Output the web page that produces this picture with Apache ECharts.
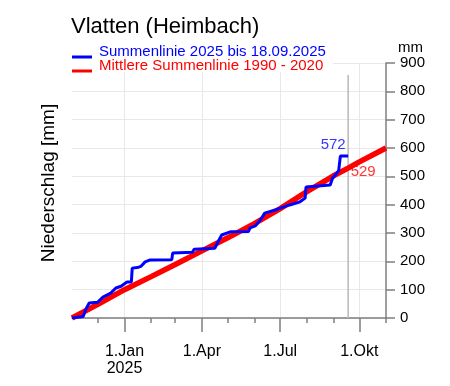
<!DOCTYPE html>
<html><head><meta charset="utf-8">
<script src="https://cdn.jsdelivr.net/npm/echarts@6/dist/echarts.min.js"></script>
<style>html,body{margin:0;padding:0;background:#fff}#c{width:450px;height:386px}</style>
</head><body><div id="c"></div>
<script>
// ---- data ----
const startDate = '2024-11-01';
const endDate = '2025-11-01';
const reportDate = '2025-09-18';
const reportLineTop = 858;
const monthTickDates = ['2024-12-01','2025-01-01','2025-02-01','2025-03-01','2025-04-01','2025-05-01','2025-06-01','2025-07-01','2025-08-01','2025-09-01','2025-10-01','2025-11-01'];
const majorTickDates = ['2025-01-01','2025-04-01','2025-07-01','2025-10-01'];
const majorTickLabels = ['1.Jan\n2025','1.Apr','1.Jul','1.Okt'];
const yTickValues = [0,100,200,300,400,500,600,700,800,900];

const meanDates = ['2024-11-01','2024-12-01','2025-01-01','2025-02-01','2025-03-01','2025-04-01','2025-05-01','2025-06-01','2025-07-01','2025-08-01','2025-09-01','2025-09-18','2025-10-01','2025-11-01'];
const meanValues = [0,48,100,146,189,237,283,333,386,446,502,529,551,600];

const currentDates = ['2024-11-01','2024-11-14','2024-11-17','2024-11-21','2024-12-01','2024-12-07','2024-12-16','2024-12-22','2024-12-28','2025-01-04','2025-01-09','2025-01-10','2025-01-16','2025-01-20','2025-01-25','2025-01-31','2025-02-25','2025-02-26','2025-03-21','2025-03-23','2025-04-16','2025-04-20','2025-04-24','2025-05-04','2025-05-25','2025-05-27','2025-06-02','2025-06-08','2025-06-13','2025-06-25','2025-07-01','2025-07-12','2025-07-24','2025-07-30','2025-07-31','2025-08-28','2025-08-31','2025-09-05','2025-09-07','2025-09-09','2025-09-18'];
const currentValues = [0,5,30,53,56,74,88,106,112,127,127,176,178,182,198,205,206,229,232,243,246,270,293,304,305,318,325,346,370,381,388,399,410,423,462,469,494,512,520,572,572];

const seriesNames = ['Summenlinie 2025 bis 18.09.2025','Mittlere Summenlinie 1990 - 2020'];
const titleText = 'Vlatten (Heimbach)';
const yName = 'Niederschlag [mm]';
const yUnit = 'mm';

// ---- build ----
function fmt(d){const y=d.getUTCFullYear(),m=String(d.getUTCMonth()+1).padStart(2,'0'),dd=String(d.getUTCDate()).padStart(2,'0');return y+'-'+m+'-'+dd;}
const categories = [];
for (let t = Date.parse(startDate+'T00:00:00Z'); t <= Date.parse(endDate+'T00:00:00Z'); t += 86400000) categories.push(fmt(new Date(t)));
const monthSet = new Set(monthTickDates);
const majorSet = new Set(majorTickDates);
const labelMap = {}; majorTickDates.forEach((d,i)=>labelMap[d]=majorTickLabels[i]);
const meanData = meanDates.map((d,i)=>[d, meanValues[i]]);
const currentData = currentDates.map((d,i)=>[d, currentValues[i]]);
const lastCurrent = currentValues[currentValues.length-1];
const meanAtReport = meanValues[meanDates.indexOf(reportDate)];

const FONT = 'Liberation Sans, Arial, Helvetica, sans-serif';
const axisGray = '#7f7f7f';
const gridGray = '#e8e8e8';

const chart = echarts.init(document.getElementById('c'), null, {renderer:'canvas'});
chart.setOption({
  animation:false,
  backgroundColor:'#fff',
  textStyle:{fontFamily:FONT},
  title:{text:titleText, left:66, top:11, textStyle:{fontSize:22, fontWeight:'normal', color:'#000', fontFamily:FONT}},
  grid:{left:72, right:64, top:63, bottom:68, containLabel:false, outerBoundsMode:'none'},
  xAxis:[
    {type:'category', data:categories, boundaryGap:false, position:'bottom',
     axisLine:{show:true, lineStyle:{color:axisGray, width:1.5}},
     axisTick:{show:true, length:5, interval:(i,v)=>monthSet.has(v), lineStyle:{color:axisGray, width:1.5}},
     axisLabel:{show:false}, splitLine:{show:false}},
    {type:'category', data:categories, boundaryGap:false, position:'bottom',
     axisLine:{show:false},
     axisTick:{show:true, length:14, interval:(i,v)=>majorSet.has(v), lineStyle:{color:axisGray, width:1.5}},
     axisLabel:{show:true, interval:(i,v)=>majorSet.has(v), formatter:(v)=>labelMap[v]||'', margin:25, fontSize:16, lineHeight:17, color:'#000', fontFamily:FONT},
     splitLine:{show:true, interval:(i,v)=>majorSet.has(v), lineStyle:{color:gridGray, width:1}}}
  ],
  yAxis:{type:'value', position:'right', min:yTickValues[0], max:yTickValues[yTickValues.length-1], interval:yTickValues[1]-yTickValues[0],
    name:yUnit, nameLocation:'end', nameGap:11,
    nameTextStyle:{align:'left', verticalAlign:'middle', padding:[0,0,0,12], fontSize:15, color:'#000', fontFamily:FONT},
    axisLine:{show:true, lineStyle:{color:axisGray, width:1.5}},
    axisTick:{show:true, length:9, lineStyle:{color:axisGray, width:1.5}},
    axisLabel:{margin:14, fontSize:15, color:'#000', fontFamily:FONT},
    splitLine:{show:true, lineStyle:{color:gridGray, width:1}}},
  graphic:[
    {type:'text', x:49, y:183, rotation:Math.PI/2, style:{text:yName, align:'center', verticalAlign:'middle', fontSize:19, fill:'#000', fontFamily:FONT}},
    {type:'rect', z:100, shape:{x:68, y:40, width:265, height:32}, style:{fill:'#ffffff'}},
    {type:'line', z:101, shape:{x1:72, y1:57, x2:92, y2:57}, style:{stroke:'#0000ff', lineWidth:3}},
    {type:'text', z:101, style:{text:seriesNames[0], x:99, y:51.5, verticalAlign:'middle', fontSize:15, fill:'#0000ff', fontFamily:FONT}},
    {type:'line', z:101, shape:{x1:72, y1:71, x2:92, y2:71}, style:{stroke:'#ff0000', lineWidth:3}},
    {type:'text', z:101, style:{text:seriesNames[1], x:99, y:66, verticalAlign:'middle', fontSize:15, fill:'#ff0000', fontFamily:FONT}}
  ],
  series:[
    {type:'line', name:'Datum', data:[[reportDate,0],[reportDate,reportLineTop]], symbol:'none', silent:true, z:1,
     lineStyle:{color:'#b8b8b8', width:1.5}},
    {type:'line', name:seriesNames[1], data:meanData, symbol:'none', z:2, lineStyle:{color:'#ff0000', width:5.5}},
    {type:'line', name:seriesNames[0], data:currentData, symbol:'none', z:3, lineStyle:{color:'#0000ff', width:3}},
    {type:'scatter', data:[[reportDate,lastCurrent]], symbolSize:1, itemStyle:{color:'rgba(0,0,0,0)'}, z:4, silent:true,
     label:{show:true, position:'top', offset:[-15,2], formatter:(p)=>String(p.value[1]), color:'#0000ff', fontSize:15, fontFamily:FONT}},
    {type:'scatter', data:[[reportDate,meanAtReport]], symbolSize:1, itemStyle:{color:'rgba(0,0,0,0)'}, z:4, silent:true,
     label:{show:true, position:'right', offset:[-3,4], formatter:(p)=>String(p.value[1]), color:'#ff0000', fontSize:15, fontFamily:FONT}}
  ]
});
</script></body></html>
